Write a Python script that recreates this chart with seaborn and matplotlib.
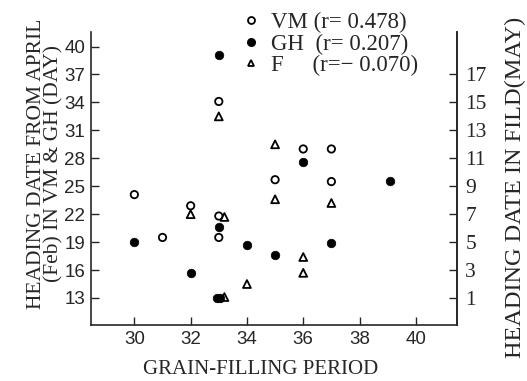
import matplotlib
matplotlib.use("Agg")
import matplotlib.pyplot as plt
import seaborn as sns
import numpy as np
import pandas as pd
from matplotlib.lines import Line2D

# datos
vm_x = [30, 31, 32, 33, 33, 33, 35, 36, 37, 37]
vm_y = [24.1, 19.5, 22.9, 34.1, 21.8, 19.5, 25.7, 29.0, 29.0, 25.5]
gh_x = [30, 32, 33, 33, 32.93, 33.03, 34, 35, 36, 37, 39.1]
gh_y = [19.0, 15.7, 39.1, 20.6, 13.0, 13.0, 18.7, 17.6, 27.6, 18.9, 25.6]
f_x = [32, 33, 33.2, 33.2, 34, 35, 35, 36, 36, 37]
f_y = [22.0, 32.5, 21.7, 13.1, 14.5, 29.5, 23.6, 17.4, 15.7, 23.2]

left_ticks = [13, 16, 19, 22, 25, 28, 31, 34, 37, 40]
right_ticks = [1, 3, 5, 7, 9, 11, 13, 15, 17]
x_ticks = [30, 32, 34, 36, 38, 40]
labels = ["VM (r= 0.478)", "GH  (r= 0.207)", "F     (r=\u2212 0.070)"]

df_vm = pd.DataFrame({"x": vm_x, "y": vm_y})
df_gh = pd.DataFrame({"x": gh_x, "y": gh_y})
df_f = pd.DataFrame({"x": f_x, "y": f_y})

sns.set_style("ticks")
serif = ["Liberation Serif", "DejaVu Serif"]
sans = ["Liberation Sans", "DejaVu Sans"]
plt.rcParams["font.family"] = sans

fig = plt.figure(figsize=(5.27, 3.81), dpi=100)
ax = fig.add_axes([0.1727, 0.147, 0.867 - 0.1727, 0.917 - 0.147])

sns.scatterplot(data=df_vm, x="x", y="y", ax=ax, marker="o", s=28,
                facecolor="none", edgecolor="black", linewidth=1.3)
sns.scatterplot(data=df_gh, x="x", y="y", ax=ax, marker="o", s=38,
                color="black", edgecolor="black", linewidth=0.5)
sns.scatterplot(data=df_f, x="x", y="y", ax=ax, marker="^", s=32,
                facecolor="none", edgecolor="black", linewidth=1.3)

ax.set_xlim(28.46, 41.46)
ax.set_ylim(10.1, 41.6)
ax.set_xticks(x_ticks)
ax.set_yticks(left_ticks)
ax.tick_params(direction="in", length=6, width=1, labelsize=13.5, pad=4)
ax.set_xlabel("GRAIN-FILLING PERIOD", family=serif, fontsize=15, labelpad=9)
ax.xaxis.label.set_x(0.464)
ax.set_ylabel("HEADING DATE FROM APRIL\n(Feb) IN VM & GH (DAY)", family=serif,
              fontsize=15.5, labelpad=1, linespacing=0.85)
ax.yaxis.label.set_y(0.55)
for s in ["left", "bottom", "right"]:
    ax.spines[s].set_linewidth(1.2)
ax.spines["top"].set_visible(False)

# eje derecho (campo, mayo)
ax2 = ax.twinx()
lo, hi = ax.get_ylim()
ax2.set_ylim(1 + (lo - 13) * 2 / 3, 1 + (hi - 13) * 2 / 3)
ax2.set_yticks(right_ticks)
ax2.set_yticklabels([str(t) for t in right_ticks], family=serif)
ax2.tick_params(direction="in", length=6, width=1, labelsize=15.5, pad=6)
ax2.set_ylabel("HEADING DATE IN FILD(MAY)", family=serif, fontsize=17.5, labelpad=13)
ax2.yaxis.label.set_y(0.47)
for s in ["top", "left", "bottom"]:
    ax2.spines[s].set_visible(False)
ax2.spines["right"].set_linewidth(1.2)

handles = [
    Line2D([], [], ls="", marker="o", ms=5, mfc="none", mec="black", mew=1.3),
    Line2D([], [], ls="", marker="o", ms=5.5, mfc="black", mec="black"),
    Line2D([], [], ls="", marker="^", ms=5, mfc="none", mec="black", mew=1.3),
]
fig.legend(handles, labels, loc="upper left", bbox_to_anchor=(0.432, 1.005),
           frameon=False, prop={"family": serif, "size": 16.5},
           handlelength=0.8, handletextpad=0.5, labelspacing=0.02,
           borderaxespad=0.2)

fig.savefig("out.png", dpi=100)
